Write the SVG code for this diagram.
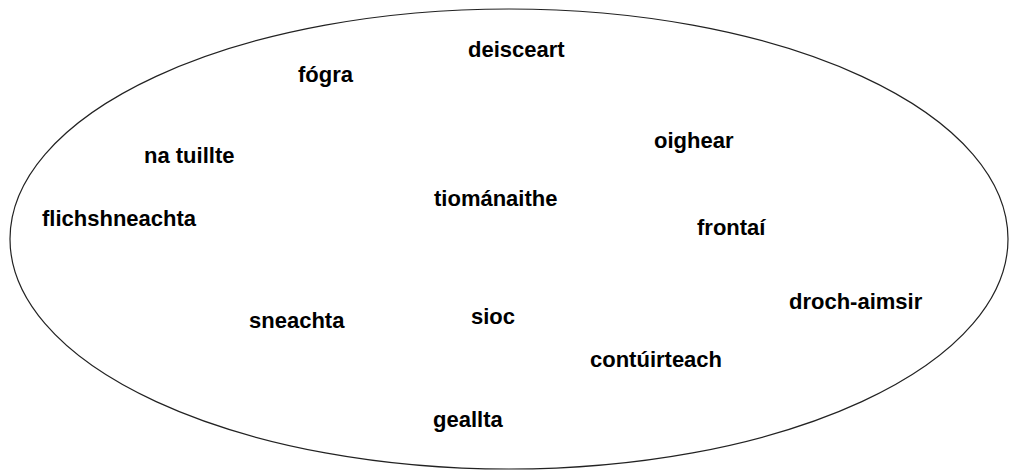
<svg xmlns="http://www.w3.org/2000/svg" width="1011" height="473" viewBox="0 0 1011 473">
<style>
.w{font-family:"Liberation Sans",Arial,sans-serif;font-weight:bold;font-size:22px;fill:#000}
.b{fill:none;stroke:#222;stroke-width:1.2}
</style>
<rect width="1011" height="473" fill="#fff"/>
<g id="boundary"><ellipse class="b" cx="509" cy="239" rx="499" ry="230"/></g>
<g id="connectors"></g>
<g id="n-deisceart"><text class="w" x="468" y="57">deisceart</text></g>
<g id="n-fogra"><text class="w" x="298" y="82">fógra</text></g>
<g id="n-natuillte"><text class="w" x="144" y="163">na tuillte</text></g>
<g id="n-oighear"><text class="w" x="654" y="148">oighear</text></g>
<g id="n-flichshneachta"><text class="w" x="42" y="226">flichshneachta</text></g>
<g id="n-tiomanaithe"><text class="w" x="434" y="206">tiománaithe</text></g>
<g id="n-frontai"><text class="w" x="697" y="235">frontaí</text></g>
<g id="n-drochaimsir"><text class="w" x="789" y="309">droch-aimsir</text></g>
<g id="n-sneachta"><text class="w" x="249" y="328">sneachta</text></g>
<g id="n-sioc"><text class="w" x="471" y="324">sioc</text></g>
<g id="n-contuirteach"><text class="w" x="590" y="367">contúirteach</text></g>
<g id="n-geallta"><text class="w" x="433" y="427">geallta</text></g>
</svg>
